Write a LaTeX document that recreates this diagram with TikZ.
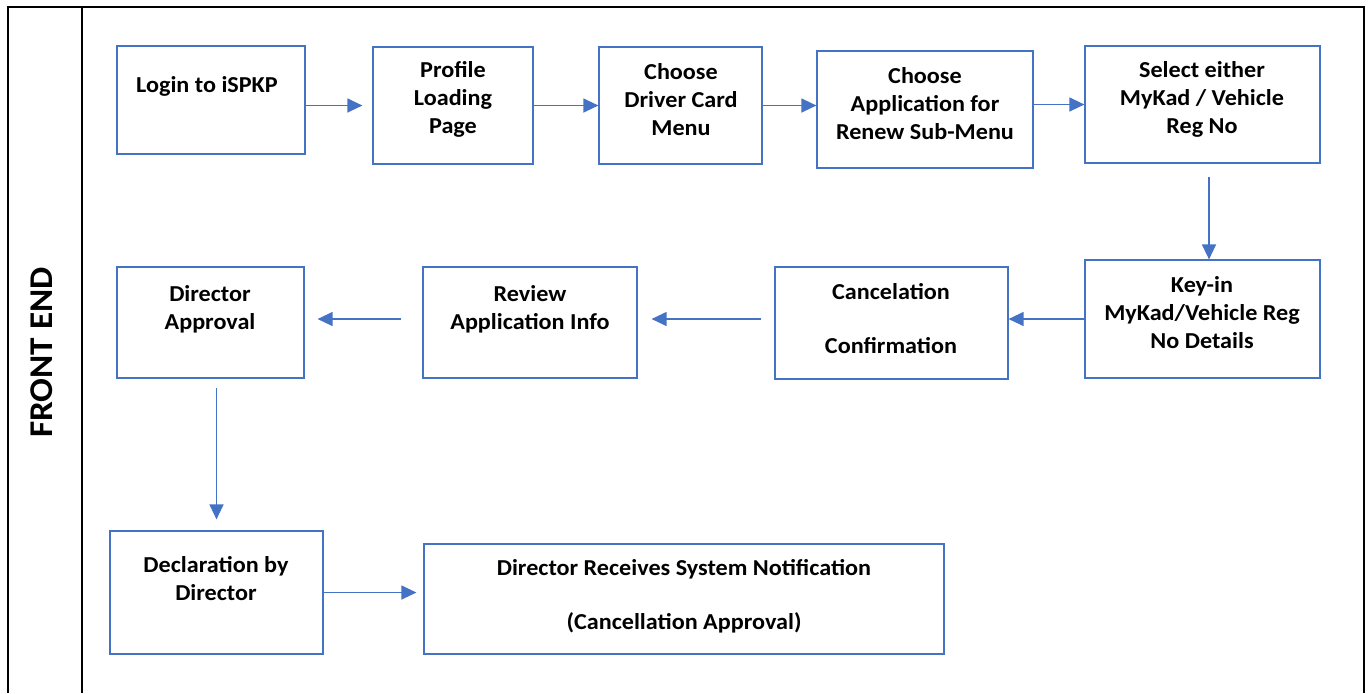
\documentclass[tikz,border=0pt]{standalone}
\usepackage{fontspec}
\setmainfont{Carlito}[FakeStretch=1.06]
\usetikzlibrary{arrows.meta,fit}
\definecolor{boxblue}{RGB}{68,114,196}

\begin{document}
\begin{tikzpicture}[x=0.5pt,y=-0.5pt,
  box/.style={draw=boxblue,line width=0.6pt,inner sep=0pt},
  txt/.style={font=\bfseries\fontsize{11.4}{14}\selectfont,align=center,inner sep=0pt},
  arr/.style={draw=boxblue,line width=0.65pt,-{Triangle[length=7.5pt,width=7pt]}}]
\useasboundingbox (0,0) rectangle (1371,693);

% lane frame
\draw[line width=1pt] (8,693) -- (8,7) -- (1364,7) -- (1364,693);
\draw[line width=1pt] (82,7) -- (82,693);
\node[rotate=90,font=\bfseries\fontsize{16.6}{20}\selectfont] (lane) at (41.5,352.5) {FRONT END};

% first row
\node[box,fit={(117,46) (305,154)}] (login) {};
\node[box,fit={(373,47) (533,164)}] (prof) {};
\node[box,fit={(599,47) (762,164)}] (choose) {};
\node[box,fit={(817,51) (1033,168)}] (app) {};
\node[box,fit={(1085,46) (1320,163)}] (sel) {};

\node[txt] (login-t) at (207,86) {Login to iSPKP};
\node[txt] (prof-t) at (453,99.5) {Profile\\Loading\\Page};
\node[txt] (choose-t) at (681,99.5) {Choose\\Driver Card\\Menu};
\node[txt] (app-t) at (925,103.5) {Choose\\Application for\\Renew Sub-Menu};
\node[txt] (sel-t) at (1202,99.5) {Select either\\MyKad / Vehicle\\Reg No};

% second row
\node[box,fit={(1085,260) (1320,378)}] (key) {};
\node[box,fit={(775,267) (1008,379)}] (cancel) {};
\node[box,fit={(423,267) (637,378)}] (review) {};
\node[box,fit={(117,267) (304,378)}] (dir) {};

\node[txt] (key-t) at (1202,313) {Key-in\\MyKad/Vehicle Reg\\No Details};
\node[txt] (cancel-t) at (891,318.5) {Cancelation\\[13pt]Confirmation};
\node[txt] (review-t) at (530,309.5) {Review\\Application Info};
\node[txt] (dir-t) at (210,309.5) {Director\\Approval};

% third row
\node[box,fit={(110,531) (323,654)}] (decl) {};
\node[box,fit={(424,544) (944,654)}] (recv) {};

\node[txt] (decl-t) at (216,579) {Declaration by\\Director};
\node[txt] (recv-t) at (684,596) {Director Receives System Notification\\[13pt](Cancellation Approval)};

% arrows
\draw[arr,shorten >=5pt] (prof.west -| login.east) -- (prof.west);
\draw[arr] (prof.east) -- (choose.west);
\draw[arr] (choose.east) -- (choose.east -| app.west);
\draw[arr] (sel.west -| app.east) -- (sel.west);
\draw[arr,shorten <=6.5pt] ([xshift=3.25pt]sel.south) -- ([xshift=3.25pt]key.north);
\draw[arr] (key.west) -- (key.west -| cancel.east);
\draw[arr,shorten <=6.5pt,shorten >=7pt] (cancel.west |- key.west) -- (review.east |- key.west);
\draw[arr,shorten <=10.5pt,shorten >=6.5pt] (review.west |- key.west) -- (dir.east |- key.west);
\draw[arr,shorten <=4.5pt,shorten >=5.5pt] (dir.south -| decl.north) -- (decl.north);
\draw[arr,shorten >=3.5pt] (decl.east) -- (decl.east -| recv.west);
\end{tikzpicture}
\end{document}
